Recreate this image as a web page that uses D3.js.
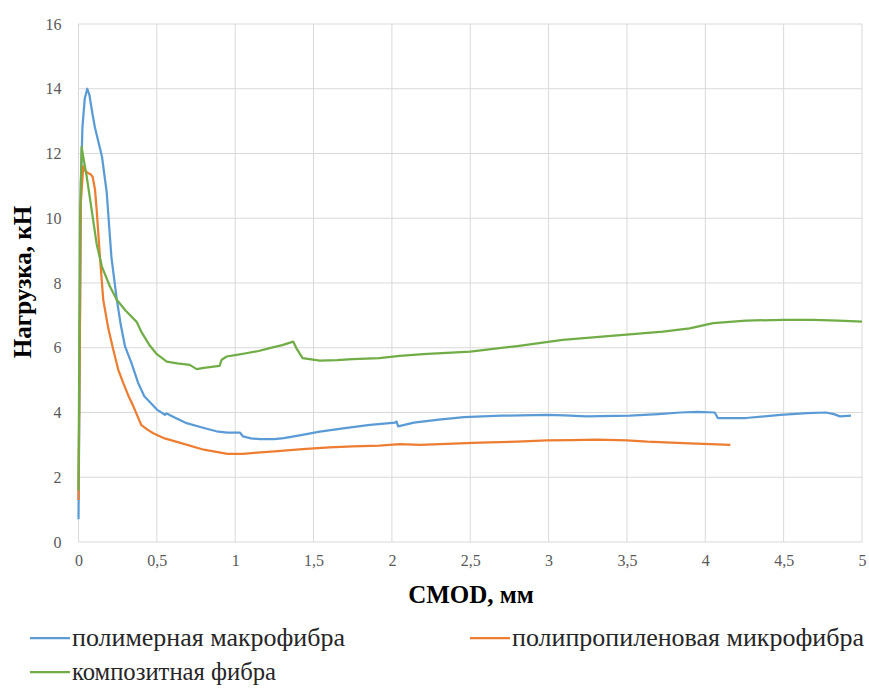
<!DOCTYPE html>
<html>
<head>
<meta charset="utf-8">
<script src="https://cdn.jsdelivr.net/npm/d3@7"></script>
</head>
<body style="margin:0">
<svg id="chart" width="869" height="691"></svg>
<script>
const xTicks = [0, 0.5, 1, 1.5, 2, 2.5, 3, 3.5, 4, 4.5, 5];
const yTicks = [0, 2, 4, 6, 8, 10, 12, 14, 16];

const seriesNames = ["полимерная макрофибра", "полипропиленовая микрофибра", "композитная фибра"];
const seriesColors = ["#5B9BD5", "#ED7D31", "#70AD47"];

const macroX = [0, 0.008, 0.015, 0.025, 0.04, 0.056, 0.07, 0.09, 0.105, 0.13, 0.15, 0.18, 0.21, 0.244, 0.27, 0.297, 0.34, 0.38, 0.42, 0.5, 0.552, 0.563, 0.6, 0.69, 0.8, 0.88, 0.95, 1.03, 1.05, 1.1, 1.16, 1.25, 1.31, 1.42, 1.54, 1.7, 1.86, 1.95, 2.02, 2.03, 2.04, 2.14, 2.3, 2.46, 2.7, 2.99, 3.1, 3.24, 3.52, 3.7, 3.84, 3.95, 4.06, 4.08, 4.26, 4.48, 4.65, 4.77, 4.82, 4.86, 4.93];
const macroY = [0.7, 6, 11, 12.8, 13.7, 14.0, 13.8, 13.2, 12.8, 12.3, 11.9, 10.8, 8.8, 7.5, 6.7, 6.04, 5.5, 4.92, 4.5, 4.09, 3.93, 3.97, 3.88, 3.67, 3.52, 3.42, 3.38, 3.38, 3.26, 3.2, 3.18, 3.18, 3.21, 3.3, 3.41, 3.52, 3.62, 3.66, 3.69, 3.72, 3.57, 3.69, 3.78, 3.86, 3.9, 3.93, 3.91, 3.88, 3.9, 3.95, 4.0, 4.02, 4.0, 3.83, 3.83, 3.93, 3.98, 4.0, 3.95, 3.88, 3.9];

const microX = [0, 0.008, 0.015, 0.03, 0.045, 0.063, 0.08, 0.09, 0.105, 0.116, 0.137, 0.158, 0.19, 0.222, 0.255, 0.286, 0.32, 0.35, 0.38, 0.4, 0.44, 0.477, 0.55, 0.65, 0.8, 0.95, 1.05, 1.12, 1.25, 1.43, 1.6, 1.75, 1.92, 2.05, 2.18, 2.35, 2.56, 2.8, 2.99, 3.15, 3.31, 3.5, 3.63, 3.9, 4.16];
const microY = [1.3, 6, 10.5, 11.6, 11.45, 11.39, 11.35, 11.28, 10.9, 10.26, 8.8, 7.48, 6.6, 5.94, 5.3, 4.91, 4.5, 4.19, 3.85, 3.62, 3.47, 3.36, 3.2, 3.06, 2.85, 2.72, 2.72, 2.75, 2.8, 2.87, 2.92, 2.95, 2.98, 3.02, 3.0, 3.03, 3.07, 3.1, 3.14, 3.15, 3.16, 3.14, 3.1, 3.05, 3.0];

const compX = [0, 0.005, 0.01, 0.02, 0.03, 0.052, 0.084, 0.116, 0.15, 0.2, 0.244, 0.3, 0.371, 0.4, 0.456, 0.5, 0.563, 0.63, 0.71, 0.754, 0.8, 0.9, 0.914, 0.946, 1.01, 1.07, 1.15, 1.22, 1.3, 1.37, 1.39, 1.43, 1.54, 1.65, 1.75, 1.92, 2.05, 2.2, 2.5, 2.8, 3.09, 3.4, 3.73, 3.9, 4.05, 4.26, 4.5, 4.69, 4.85, 5.0];
const compY = [1.6, 6, 10, 12.2, 11.9, 11.3, 10.26, 9.2, 8.5, 7.9, 7.48, 7.15, 6.8, 6.5, 6.06, 5.8, 5.57, 5.52, 5.47, 5.34, 5.38, 5.44, 5.63, 5.73, 5.78, 5.83, 5.9, 5.99, 6.08, 6.19, 5.99, 5.68, 5.6, 5.62, 5.65, 5.68, 5.75, 5.8, 5.88, 6.05, 6.24, 6.37, 6.5, 6.6, 6.76, 6.84, 6.86, 6.86, 6.84, 6.81];

const series = [
    { name: seriesNames[0], color: seriesColors[0], values: macroX.map((x, i) => [x, macroY[i]]) },
    { name: seriesNames[1], color: seriesColors[1], values: microX.map((x, i) => [x, microY[i]]) },
    { name: seriesNames[2], color: seriesColors[2], values: compX.map((x, i) => [x, compY[i]]) }
];

const FONT = '"Liberation Serif"';

const svg = d3.select("#chart");
const margin = { top: 24, right: 7, bottom: 149, left: 78.5 };
const width = +svg.attr("width") - margin.left - margin.right;
const height = +svg.attr("height") - margin.top - margin.bottom;

const x = d3.scaleLinear().domain([0, 5]).range([0, width]);
const y = d3.scaleLinear().domain([0, 16]).range([height, 0]);

const g = svg.append("g")
    .attr("transform", `translate(${margin.left},${margin.top})`);

// grid
g.append("g")
    .selectAll("line")
    .data(yTicks)
    .enter().append("line")
    .attr("x1", 0).attr("x2", width)
    .attr("y1", d => y(d)).attr("y2", d => y(d))
    .attr("stroke", "#d9d9d9").attr("stroke-width", 1);

g.append("g")
    .selectAll("line")
    .data(xTicks)
    .enter().append("line")
    .attr("x1", d => x(d)).attr("x2", d => x(d))
    .attr("y1", 0).attr("y2", height)
    .attr("stroke", "#d9d9d9").attr("stroke-width", 1);

// axes
const xAxis = g.append("g")
    .attr("transform", `translate(0,${height})`)
    .call(d3.axisBottom(x).tickValues(xTicks).tickSize(0).tickPadding(13)
        .tickFormat(d => String(d).replace(".", ",")));
xAxis.select(".domain").remove();

const yAxis = g.append("g")
    .call(d3.axisLeft(y).tickValues(yTicks).tickSize(0).tickPadding(17));
yAxis.select(".domain").remove();

svg.selectAll(".tick text")
    .style("font-family", FONT)
    .style("font-size", "16px")
    .attr("fill", "#595959");

const line = d3.line()
    .x(d => x(d[0]))
    .y(d => y(d[1]));

g.selectAll(".series")
    .data(series)
    .enter().append("path")
    .attr("class", "series")
    .attr("d", d => line(d.values))
    .attr("fill", "none")
    .attr("stroke", d => d.color)
    .attr("stroke-width", 2.25)
    .attr("stroke-linejoin", "round");

// titles
svg.append("text")
    .attr("transform", "translate(31,282) rotate(-90)")
    .attr("text-anchor", "middle")
    .style("font-family", FONT)
    .style("font-weight", "bold")
    .style("font-size", "25px")
    .attr("fill", "#000")
    .text("Нагрузка, кН");

svg.append("text")
    .attr("x", 471)
    .attr("y", 603)
    .attr("text-anchor", "middle")
    .style("font-family", FONT)
    .style("font-weight", "bold")
    .style("font-size", "25px")
    .attr("fill", "#000")
    .text("CMOD, мм");

// legend
const legendItems = [
    { i: 0, lx: 30, ty: 646, w: 273 },
    { i: 1, lx: 470, ty: 646, w: 352 },
    { i: 2, lx: 30, ty: 680, w: 204 }
];
const legend = svg.append("g");
legendItems.forEach(item => {
    legend.append("line")
        .attr("x1", item.lx).attr("x2", item.lx + 40)
        .attr("y1", item.ty - 8).attr("y2", item.ty - 8)
        .attr("stroke", seriesColors[item.i])
        .attr("stroke-width", 2.25);
    legend.append("text")
        .attr("x", item.lx + 42)
        .attr("y", item.ty)
        .style("font-family", FONT)
        .style("font-size", "25px")
        .attr("fill", "#262626")
        .attr("textLength", item.w)
        .attr("lengthAdjust", "spacingAndGlyphs")
        .text(seriesNames[item.i]);
});
</script>
</body>
</html>
